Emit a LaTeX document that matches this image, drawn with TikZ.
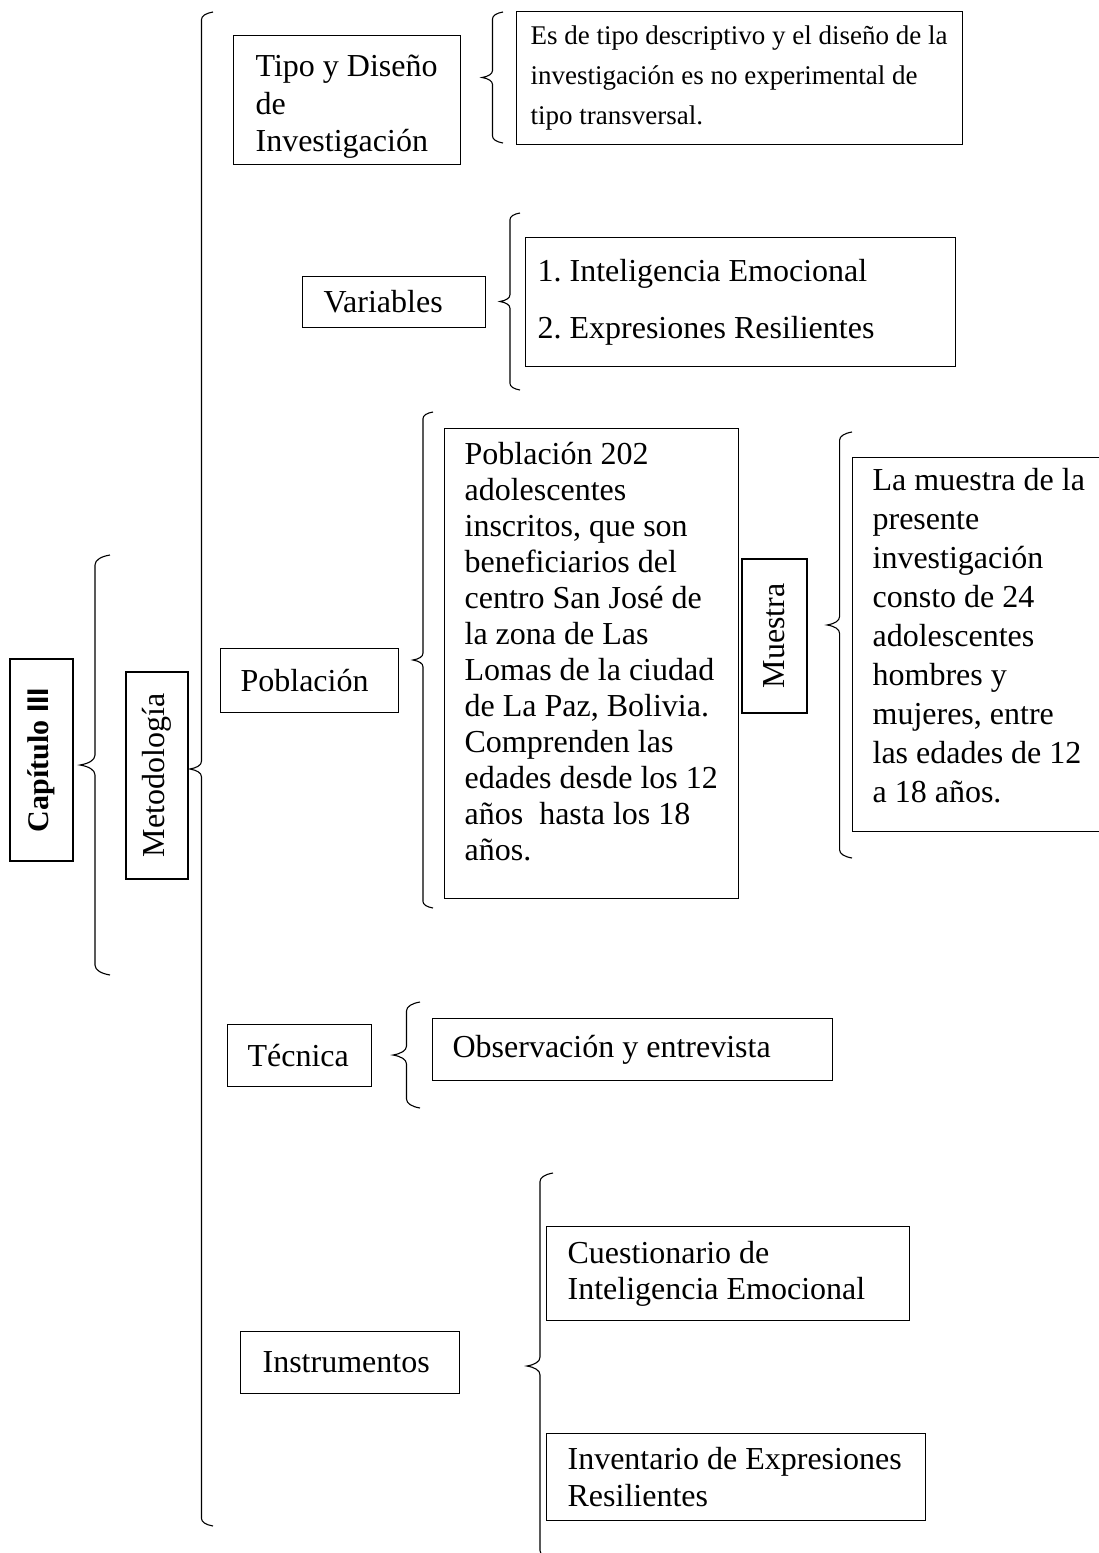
\documentclass[tikz,border=0pt]{standalone}
\usepackage{fontspec}
\setmainfont{Liberation Serif}
\setsansfont{Liberation Sans}
\frenchspacing
\usepackage{tikz}
\usetikzlibrary{decorations.pathreplacing}

\begin{document}
\begin{tikzpicture}[x=1pt, y=-1pt,
textbox/.style={draw, rectangle, line width=1.2pt, anchor=north west, align=flush left,
  inner xsep=4pt, inner ysep=0pt, font=\fontsize{32}{36.5}\selectfont,
  execute at begin node={\leftskip=#1}},
textbox/.default=16pt,
sidebox/.style={draw, rectangle, line width=1.2pt, rotate=90, inner sep=0pt,
  font=\fontsize{32}{36.5}\selectfont},
bracket/.style={decorate, decoration={brace, amplitude=#1, transform={yscale=3}},
  line width=1.1pt},
]
\useasboundingbox (0,0) rectangle (1098,1553);

%Nodes
\node[sidebox, minimum width=202pt, minimum height=63pt,
  font=\fontsize{30}{36}\selectfont\bfseries] (cap) at (41.5,760) {Capítulo \textsf{III}};
\node[sidebox, minimum width=207pt, minimum height=62pt] (met) at (157,775.5) {Metodología};

\node[textbox=18pt, text width=219pt, minimum height=129pt, font=\fontsize{32}{37.5}\selectfont]
  (tipo) at (233,35) {\rule{0pt}{35pt}Tipo y Diseño\\de\\Investigación};
\node[textbox=10pt, text width=438pt, minimum height=133pt, font=\fontsize{27}{40}\selectfont]
  (tipotxt) at (516,11) {Es de tipo descriptivo y el diseño de la\\investigación es no experimental de\\tipo transversal.};

\node[textbox=17pt, text width=175pt, minimum height=51pt] (var) at (302,276) {Variables};
\node[textbox=8pt, text width=422pt, minimum height=129pt]
  (vartxt) at (525,237) {1. Inteligencia Emocional\\[20.5pt]2. Expresiones Resilientes};

\node[textbox, text width=170pt, minimum height=64pt] (pob) at (220,648) {Población};
\node[textbox, text width=286pt, minimum height=470pt, font=\fontsize{32}{36}\selectfont]
  (pobtxt) at (444,428)
  {Población 202\\adolescentes\\inscritos, que son\\beneficiarios del\\centro San José de\\la zona de Las\\Lomas de la ciudad\\de La Paz, Bolivia.\\Comprenden las\\edades desde los 12\\años\ \ hasta los 18\\años.\rule[-25pt]{0pt}{1pt}};
\node[sidebox, minimum width=154pt, minimum height=65pt] (mue) at (774.5,636) {Muestra};
\node[textbox, text width=245pt, minimum height=374pt, font=\fontsize{32}{39}\selectfont]
  (muetxt) at (852,457)
  {La muestra de la\\presente\\investigación\\consto de 24\\adolescentes\\hombres y\\mujeres, entre\\las edades de 12\\a 18 años.\rule[-19pt]{0pt}{1pt}};

\node[textbox, text width=136pt, minimum height=62pt] (tec) at (227,1024) {Técnica};
\node[textbox, text width=392pt, minimum height=62pt] (tectxt) at (432,1018) {Observación y entrevista};

\node[textbox=18pt, text width=211pt, minimum height=62pt] (ins) at (240,1331) {Instrumentos};
\node[textbox=17pt, text width=355pt, minimum height=94pt] (cues) at (546,1226)
  {Cuestionario de\\Inteligencia Emocional};
\node[textbox=17pt, text width=371pt, minimum height=87pt] (inv) at (546,1433)
  {Inventario de Expresiones\\Resilientes};

%Brace ends
\coordinate (capTop) at (110,555);   \coordinate (capBot) at (110,975);
\coordinate (metTop) at (213,12);    \coordinate (metBot) at (213,1526);
\coordinate (tipoTop) at (503,12);   \coordinate (tipoBot) at (503,143);
\coordinate (varTop) at (520,213);   \coordinate (varBot) at (520,390);
\coordinate (pobTop) at (433,412);   \coordinate (pobBot) at (433,908);
\coordinate (mueTop) at (852,432);   \coordinate (mueBot) at (852,858);
\coordinate (tecTop) at (420,1002);  \coordinate (tecBot) at (420,1108);
\coordinate (insTop) at (553,1173);  \coordinate (insBot) at (553,1559);

%Braces
\draw[bracket=10pt] (capBot) -- (capTop);
\draw[bracket=7.7pt] (metBot) -- (metTop);
\draw[bracket=7pt] (tipoBot) -- (tipoTop);
\draw[bracket=6.7pt] (varBot) -- (varTop);
\draw[bracket=6.7pt] (pobBot) -- (pobTop);
\draw[bracket=8.3pt, decoration={aspect=0.547}] (mueBot) -- (mueTop);
\draw[bracket=9pt] (tecBot) -- (tecTop);
\draw[bracket=8.7pt] (insBot) -- (insTop);
\end{tikzpicture}
\end{document}
